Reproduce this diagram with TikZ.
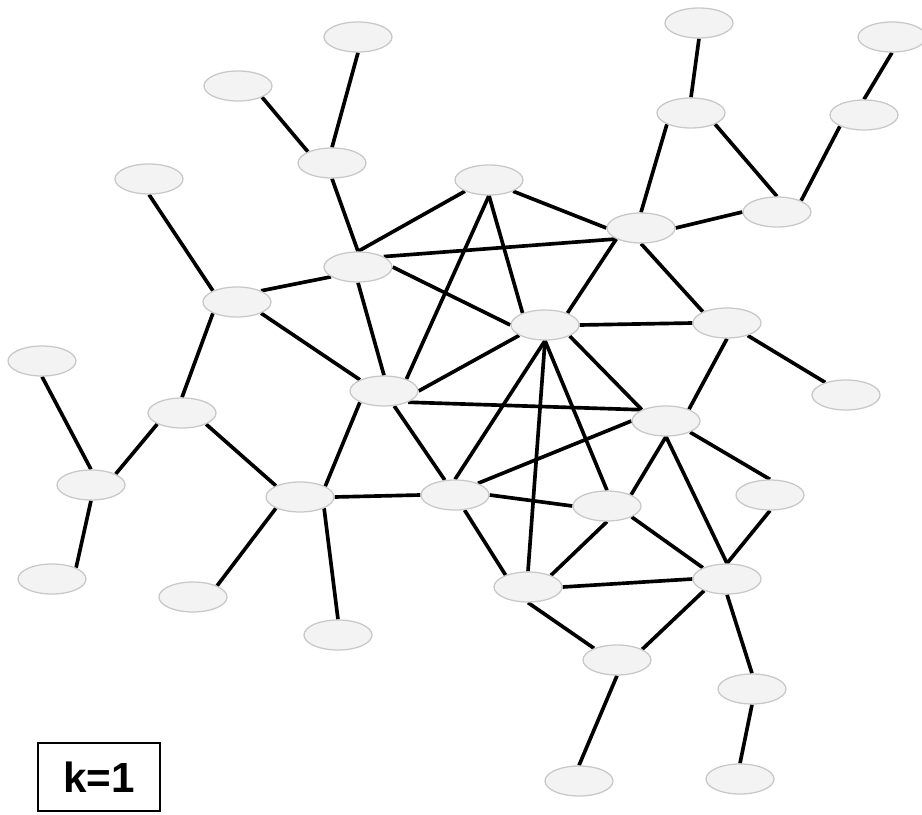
\documentclass[tikz,border=0pt]{standalone}
\usepackage{fontspec}
\setmainfont{Liberation Sans}
\usetikzlibrary{shapes.geometric,backgrounds}
\definecolor{vfill}{RGB}{243,243,243}
\definecolor{vline}{RGB}{200,200,200}
\tikzset{
    vert/.style={ellipse, draw=vline, fill=vfill, line width=0.9pt,
        minimum width=1.7cm, minimum height=0.75cm, inner sep=0pt},
    edge/.style={line width=2.6pt, black},
    tag/.style={draw, line width=0.8pt, minimum width=3.05cm, minimum height=1.7cm,
        font=\fontsize{30}{34}\selectfont\bfseries}
}
\begin{document}
\begin{tikzpicture}[x=0.025cm, y=-0.025cm]
    \useasboundingbox (0,0) rectangle (922,815);
    % 顶点
    \node[vert] (v1) at (358,37) {};
    \node[vert] (v2) at (699,23) {};
    \node[vert] (v3) at (892,37) {};
    \node[vert] (v4) at (238,86) {};
    \node[vert] (v5) at (691,113) {};
    \node[vert] (v6) at (864,115) {};
    \node[vert] (v7) at (332,163) {};
    \node[vert] (v8) at (149,179) {};
    \node[vert] (v9) at (489,180) {};
    \node[vert] (v10) at (777,212) {};
    \node[vert] (v11) at (641,228) {};
    \node[vert] (v12) at (358,267) {};
    \node[vert] (v13) at (237,302) {};
    \node[vert] (v14) at (545,325) {};
    \node[vert] (v15) at (727,323) {};
    \node[vert] (v16) at (42,361) {};
    \node[vert] (v17) at (384,391) {};
    \node[vert] (v18) at (846,395) {};
    \node[vert] (v19) at (182,413) {};
    \node[vert] (v20) at (666,421) {};
    \node[vert] (v21) at (91,485) {};
    \node[vert] (v22) at (300,497) {};
    \node[vert] (v23) at (455,495) {};
    \node[vert] (v24) at (607,506) {};
    \node[vert] (v25) at (770,495) {};
    \node[vert] (v26) at (528,587) {};
    \node[vert] (v27) at (727,579) {};
    \node[vert] (v28) at (52,579) {};
    \node[vert] (v29) at (193,597) {};
    \node[vert] (v30) at (338,635) {};
    \node[vert] (v31) at (617,660) {};
    \node[vert] (v32) at (752,689) {};
    \node[vert] (v33) at (579,781) {};
    \node[vert] (v34) at (740,779) {};

    % 边
    \begin{scope}[on background layer]
        % 左上
        \draw[edge] (v1.south) -- (v7.north);
        \draw[edge] (v4.-25) -- (v7.155);
        \draw[edge] (v7.south) -- (v12.north);
        \draw[edge] (v8.south) -- (v13.155);
        \draw[edge] (v12.200) -- (v13.25);
        \draw[edge] (v13.-25) -- (v17.155);
        \draw[edge] (v13.205) -- (v19.north);
        % 右上
        \draw[edge] (v2.south) -- (v5.north);
        \draw[edge] (v3.south) -- (v6.north);
        \draw[edge] (v5.205) -- (v11.north);
        \draw[edge] (v5.-25) -- (v10.north);
        \draw[edge] (v6.205) -- (v10.25);
        \draw[edge] (v10.west) -- (v11.east);
        % 中部
        \draw[edge] (v9.205) -- (v12.north);
        \draw[edge] (v9.-25) -- (v11.west);
        \draw[edge] (v9.south) -- (v14.152);
        \draw[edge] (v9.south) -- (v17.28);
        \draw[edge] (v12.22) -- (v11.204);
        \draw[edge] (v12.east) -- (v14.west);
        \draw[edge] (v12.south) -- (v17.north);
        \draw[edge] (v11.204) -- (v14.28);
        \draw[edge] (v11.south) -- (v15.155);
        \draw[edge] (v14.east) -- (v15.west);
        \draw[edge] (v17.east) -- (v14.202);
        \draw[edge] (v14.south) -- (v23.north);
        \draw[edge] (v14.south) -- (v26.north);
        \draw[edge] (v14.south) -- (v24.north);
        \draw[edge] (v14.-24) -- (v20.155);
        \draw[edge] (v15) -- (v18);
        \draw[edge] (v15.south) -- (v20.27);
        \draw[edge] (v17.-25) -- (v20.155);
        \draw[edge] (v17.205) -- (v22.23);
        \draw[edge] (v17) -- (v23);
        % 左下
        \draw[edge] (v19.204) -- (v21.24);
        \draw[edge] (v19.-25) -- (v22.155);
        \draw[edge] (v16.south) -- (v21.north);
        \draw[edge] (v21.south) -- (v28.25);
        \draw[edge] (v22.east) -- (v23.west);
        \draw[edge] (v22.205) -- (v29.25);
        \draw[edge] (v22.-25) -- (v30.north);
        % 右下
        \draw[edge] (v23.east) -- (v24.west);
        \draw[edge] (v23) -- (v26.152);
        \draw[edge] (v23.27) -- (v20.west);
        \draw[edge] (v24.25) -- (v20.south);
        \draw[edge] (v20.-25) -- (v25.north);
        \draw[edge] (v20.south) -- (v27.north);
        \draw[edge] (v24.south) -- (v26.27);
        \draw[edge] (v24.-24) -- (v27.155);
        \draw[edge] (v25.south) -- (v27.north);
        \draw[edge] (v26.east) -- (v27.west);
        \draw[edge] (v26.south) -- (v31.153);
        \draw[edge] (v27.207) -- (v31.23);
        \draw[edge] (v27.south) -- (v32.north);
        \draw[edge] (v31.south) -- (v33.north);
        \draw[edge] (v32.south) -- (v34.north);
    \end{scope}

    % 标签
    \node[tag] (klabel) at (99,777) {k=1};
\end{tikzpicture}
\end{document}
